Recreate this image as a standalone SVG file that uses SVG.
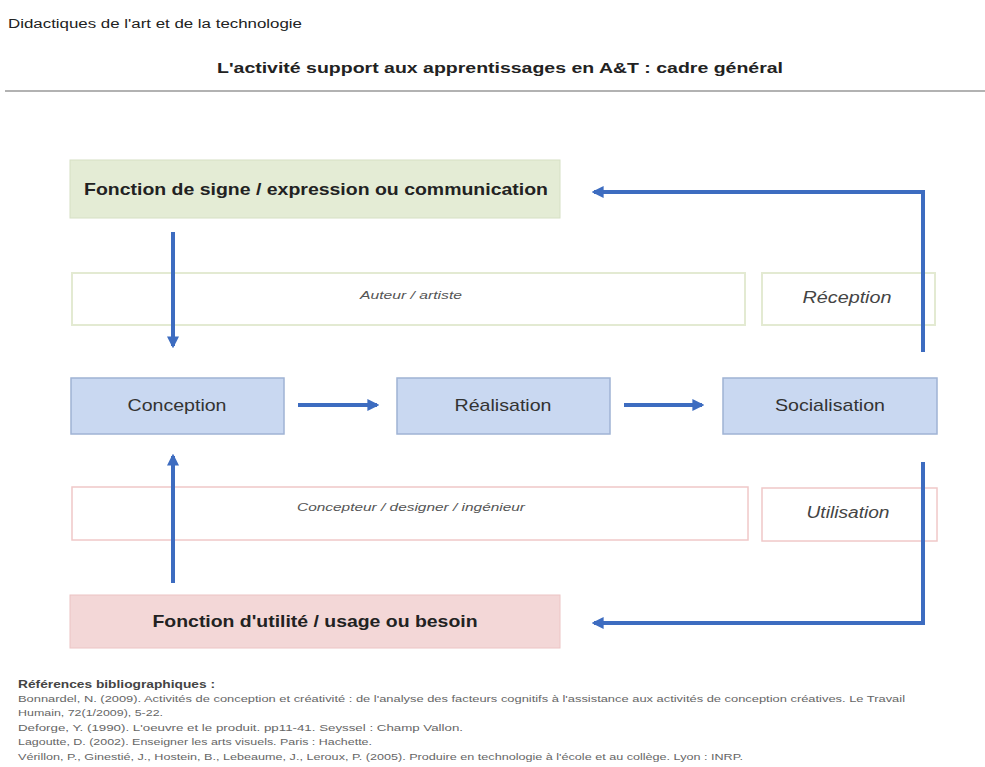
<svg xmlns="http://www.w3.org/2000/svg" width="985" height="767" viewBox="0 0 985 767">
<style>
text{font-family:"Liberation Sans",Arial,sans-serif;fill:#222}
.hdr{font-size:12px}
.title{font-size:15px;font-weight:bold;text-anchor:middle}
.fn{font-size:17px;font-weight:bold;text-anchor:middle}
.step{font-size:17px;text-anchor:middle;fill:#333}
.role{font-size:10px;font-style:italic;text-anchor:middle;fill:#555}
.side{font-size:16px;font-style:italic;text-anchor:middle;fill:#444}
.ref{font-size:9px;fill:#666}
.refh{font-size:10px;font-weight:bold;fill:#444}
.step-box{fill:#c9d8f1;stroke:#9fb3d4;stroke-width:1.5}
.band-g{fill:#fff;stroke:#e3ead2;stroke-width:2}
.band-r{fill:#fff;stroke:#f0c8c8;stroke-width:1.5}
.conn{fill:none;stroke:#3d6cc0;stroke-width:4}
</style>
<defs>
<marker id="ah" viewBox="0 0 10 10" refX="8" refY="5" markerWidth="3" markerHeight="3.4" orient="auto" markerUnits="strokeWidth">
<path d="M0,0 L10,5 L0,10 z" fill="#3d6cc0"/>
</marker>
</defs>
<rect width="985" height="767" fill="#fff"/>
<g id="header">
<text class="hdr" x="8" y="28" textLength="294" lengthAdjust="spacingAndGlyphs">Didactiques de l'art et de la technologie</text>
<text class="title" x="500" y="73" textLength="566" lengthAdjust="spacingAndGlyphs">L'activité support aux apprentissages en A&amp;T : cadre général</text>
<line x1="5" y1="91" x2="985" y2="91" stroke="#999" stroke-width="1.5"/>
</g>
<g id="fonction-signe">
<rect x="70" y="160" width="490" height="58" fill="#e4ecd5" stroke="#d6e0c4" stroke-width="1"/>
<text class="fn" x="316" y="195" textLength="464" lengthAdjust="spacingAndGlyphs">Fonction de signe / expression ou communication</text>
</g>
<g id="auteur">
<rect class="band-g" x="72" y="273" width="673" height="52"/>
<text class="role" x="411" y="299" textLength="102" lengthAdjust="spacingAndGlyphs">Auteur / artiste</text>
</g>
<g id="reception">
<rect class="band-g" x="762" y="273" width="173" height="52"/>
<text class="side" x="847" y="303" textLength="89" lengthAdjust="spacingAndGlyphs">Réception</text>
</g>
<g id="conception">
<rect class="step-box" x="71" y="378" width="213" height="56"/>
<text class="step" x="177" y="411" textLength="99" lengthAdjust="spacingAndGlyphs">Conception</text>
</g>
<g id="realisation">
<rect class="step-box" x="397" y="378" width="213" height="56"/>
<text class="step" x="503" y="411" textLength="97" lengthAdjust="spacingAndGlyphs">Réalisation</text>
</g>
<g id="socialisation">
<rect class="step-box" x="723" y="378" width="214" height="56"/>
<text class="step" x="830" y="411" textLength="110" lengthAdjust="spacingAndGlyphs">Socialisation</text>
</g>
<g id="concepteur">
<rect class="band-r" x="72" y="487" width="676" height="53"/>
<text class="role" x="411" y="511" textLength="228" lengthAdjust="spacingAndGlyphs">Concepteur / designer / ingénieur</text>
</g>
<g id="utilisation">
<rect class="band-r" x="762" y="488" width="175" height="53"/>
<text class="side" x="848" y="518" textLength="83" lengthAdjust="spacingAndGlyphs">Utilisation</text>
</g>
<g id="fonction-utilite">
<rect x="70" y="595" width="490" height="53" fill="#f3d7d7" stroke="#ecc4c4" stroke-width="1"/>
<text class="fn" x="315" y="627" textLength="325" lengthAdjust="spacingAndGlyphs">Fonction d'utilité / usage ou besoin</text>
</g>
<g id="connectors">
<path class="conn" d="M173,232 V346" marker-end="url(#ah)"/>
<path class="conn" d="M173,583 V456" marker-end="url(#ah)"/>
<path class="conn" d="M298,405 H377" marker-end="url(#ah)"/>
<path class="conn" d="M624,405 H702" marker-end="url(#ah)"/>
<path class="conn" d="M923,352 V192 H594" marker-end="url(#ah)"/>
<path class="conn" d="M923,462 V623 H594" marker-end="url(#ah)"/>
</g>
<g id="references">
<text class="refh" x="18" y="688" textLength="197" lengthAdjust="spacingAndGlyphs">Références bibliographiques :</text>
<text class="ref" x="18" y="702" textLength="887" lengthAdjust="spacingAndGlyphs">Bonnardel, N. (2009). Activités de conception et créativité : de l'analyse des facteurs cognitifs à l'assistance aux activités de conception créatives. Le Travail</text>
<text class="ref" x="18" y="716" textLength="145" lengthAdjust="spacingAndGlyphs">Humain, 72(1/2009), 5-22.</text>
<text class="ref" x="18" y="731" textLength="445" lengthAdjust="spacingAndGlyphs">Deforge, Y. (1990). L'oeuvre et le produit. pp11-41. Seyssel : Champ Vallon.</text>
<text class="ref" x="18" y="745" textLength="354" lengthAdjust="spacingAndGlyphs">Lagoutte, D. (2002). Enseigner les arts visuels. Paris : Hachette.</text>
<text class="ref" x="18" y="760" textLength="725" lengthAdjust="spacingAndGlyphs">Vérillon, P., Ginestié, J., Hostein, B., Lebeaume, J., Leroux, P. (2005). Produire en technologie à l'école et au collège. Lyon : INRP.</text>
</g>
</svg>
